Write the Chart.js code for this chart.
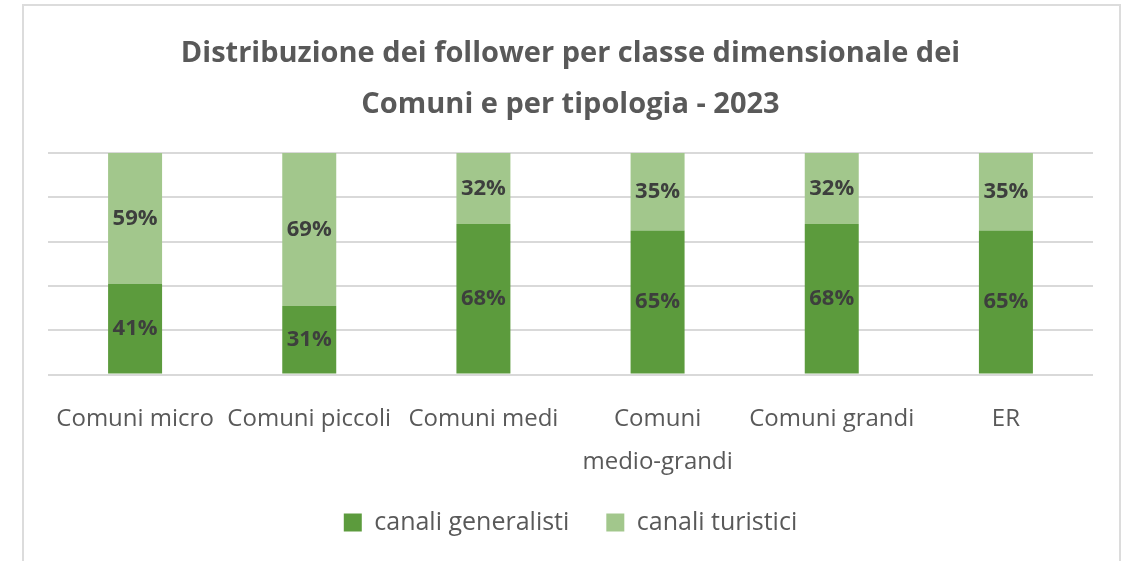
<!DOCTYPE html>
<html>
<head>
<meta charset="utf-8">
<script src="https://cdn.jsdelivr.net/npm/chart.js@4"></script>
<style>
  html, body { margin: 0; padding: 0; background: #fff; overflow: hidden; }
  #wrap { position: absolute; left: 0; top: 0; width: 1121px; height: 561px; }
  .cornice { position: absolute; left: 22px; top: 4px; width: 1095px; height: 600px;
             border: 2px solid #dcdcdc; pointer-events: none; }
</style>
</head>
<body>
<div id="wrap">
  <canvas id="grafico" width="1121" height="561"></canvas>
  <div class="cornice"></div>
</div>
<script>
// ---- dati ----
var categorie = ['Comuni micro', 'Comuni piccoli', 'Comuni medi', ['Comuni', 'medio-grandi'], 'Comuni grandi', 'ER'];
var generalisti = [41, 31, 68, 65, 68, 65];
var turistici = [59, 69, 32, 35, 32, 35];
var tickY = [0, 20, 40, 60, 80, 100];

var FONT = '"Open Sans", "Noto Sans", sans-serif';

// etichette percentuali al centro di ogni segmento
var etichette = {
  id: 'etichette',
  afterDatasetsDraw: function(chart) {
    var ctx = chart.ctx;
    ctx.save();
    ctx.font = 'bold 22px ' + FONT;
    ctx.fillStyle = '#3d3f3d';
    ctx.textAlign = 'center';
    ctx.textBaseline = 'middle';
    chart.data.datasets.forEach(function(ds, i) {
      chart.getDatasetMeta(i).data.forEach(function(bar, j) {
        var mid = (bar.y + bar.base) / 2;
        ctx.fillText(ds.data[j] + '%', bar.x, mid);
      });
    });
    ctx.restore();
  }
};

new Chart(document.getElementById('grafico'), {
  type: 'bar',
  data: {
    labels: categorie,
    datasets: [
      { label: 'canali generalisti', data: generalisti, backgroundColor: '#5c9b3d' },
      { label: 'canali turistici', data: turistici, backgroundColor: '#a2c78c' }
    ]
  },
  options: {
    responsive: false,
    animation: false,
    layout: { padding: { left: 48, right: 28, top: 0, bottom: 16 } },
    datasets: { bar: { categoryPercentage: 1, barPercentage: 0.31 } },
    plugins: {
      title: {
        display: true,
        text: ['Distribuzione dei follower per classe dimensionale dei', 'Comuni e per tipologia - 2023'],
        color: '#595959',
        font: { family: FONT, size: 29, weight: 'bold', lineHeight: 1.76 },
        padding: { top: 28, bottom: 23 }
      },
      legend: {
        position: 'bottom',
        labels: {
          color: '#595959',
          font: { family: FONT, size: 25 },
          boxWidth: 18, boxHeight: 18, padding: 11,
          useBorderRadius: false,
          // spazio extra tra le due voci della legenda
          generateLabels: function(chart) {
            var items = Chart.defaults.plugins.legend.labels.generateLabels(chart);
            items.forEach(function(it, i) {
              if (i < items.length - 1) it.text = it.text + '    ';
            });
            return items;
          }
        }
      },
      tooltip: { enabled: false }
    },
    scales: {
      x: {
        stacked: true,
        grid: { display: false },
        border: { display: false },
        ticks: { color: '#595959', font: { family: FONT, size: 24, lineHeight: 1.8 }, padding: 15, maxRotation: 0, autoSkip: false }
      },
      y: {
        stacked: true,
        min: 0, max: 100,
        afterBuildTicks: function(axis) { axis.ticks = tickY.map(function(v) { return { value: v }; }); },
        grid: { color: '#d9d9d9', lineWidth: 2, drawTicks: false },
        border: { display: false },
        ticks: { display: false }
      }
    }
  },
  plugins: [etichette]
});
</script>
</body>
</html>
